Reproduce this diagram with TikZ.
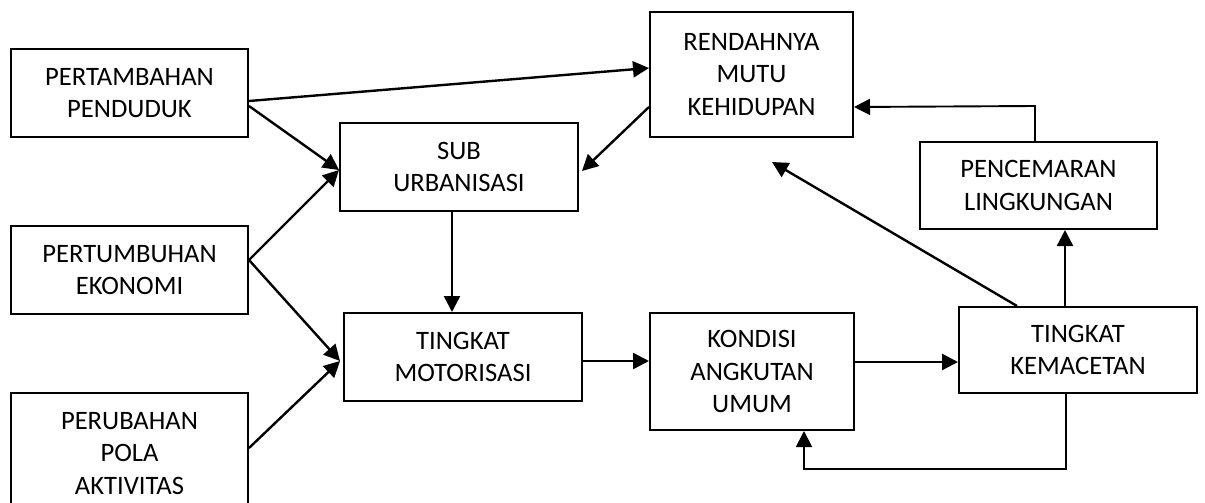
\documentclass[tikz,border=0pt]{standalone}
\usepackage{fontspec}
\setmainfont{Carlito}
\usetikzlibrary{arrows.meta,calc}
\begin{document}
\begin{tikzpicture}[x=1pt,y=-1pt,
  box/.style={draw, line width=2pt, inner sep=0pt, align=center, font=\fontsize{26.6}{32.5}\selectfont},
  arr/.style={line width=2.4pt, -{Triangle[length=16pt,width=16pt]}},
  thinarr/.style={line width=1.9pt, -{Triangle[length=16pt,width=16pt]}}]
\useasboundingbox (0,0) rectangle (1205,503);
\clip (0,0) rectangle (1205,503);
\fill[white] (0,0) rectangle (1205,503);
\node[box, minimum width=237pt, minimum height=88pt] (pp) at (129.5,93) {PERTAMBAHAN\\PENDUDUK};
\node[box, minimum width=237pt, minimum height=88pt] (pe) at (129.5,270) {PERTUMBUHAN\\EKONOMI};
\node[box, minimum width=237pt, minimum height=121pt] (ppa) at (129.5,453.5) {PERUBAHAN\\POLA\\AKTIVITAS};
\node[box, minimum width=238pt, minimum height=88pt] (sub) at (459,167) {SUB\\URBANISASI};
\node[box, minimum width=238pt, minimum height=88pt] (mot) at (463,357) {TINGKAT\\MOTORISASI};
\node[box, minimum width=203pt, minimum height=125pt] (ren) at (751.5,74.5) {RENDAHNYA\\MUTU\\KEHIDUPAN};
\node[box, minimum width=237pt, minimum height=87pt] (pen) at (1038.5,185.5) {PENCEMARAN\\LINGKUNGAN};
\node[box, minimum width=204pt, minimum height=117pt] (kon) at (752,371.5) {KONDISI\\ANGKUTAN\\UMUM};
\node[box, minimum width=238pt, minimum height=86pt] (kem) at (1078,350) {TINGKAT\\KEMACETAN};
\coordinate (kx) at (772,162);
% left side
\draw[arr] ($(pp.east)+(0,8)$) -- ($(ren.west)+(0,-6.5)$);
\draw[arr] ($(pp.east)+(0,13)$) -- ($(sub.west)+(0,3)$);
\draw[arr] ($(pe.east)+(0,-10)$) -- ($(sub.west)+(0,3)$);
\draw[arr] ($(pe.east)+(0,-10)$) -- ($(mot.west)+(-3,4)$);
\draw[arr] ($(ppa.east)+(0,-5.5)$) -- ($(mot.west)+(-3,4)$);
\draw[arr] ($(ren.west)+(0,32.5)$) -- ($(sub.east)+(3,4)$);
\draw[arr] ($(sub.south)+(-7,0)$) -- ($(mot.north)+(-11,0)$);
\draw[arr] ($(mot.east)+(0,4)$) -- ($(kon.west)+(0,-10.5)$);
\draw[arr] ($(kon.east)+(0,-9.5)$) -- ($(kem.west)+(0,12)$);
% right side
\draw[arr] ($(kem.north)+(-13,0)$) -- ($(pen.south)+(26.5,0)$);
\draw[arr] ($(kem.north)+(-61,0)$) -- (kx);
\draw[thinarr] ($(pen.north)+(-3.5,0)$) -- ++(0,-35) -- ($(ren.east)+(0,32.5)$);
\draw[thinarr] ($(kem.south)+(-12,0)$) -- ++(0,75) -| ($(kon.south)+(52,0)$);
\end{tikzpicture}
\end{document}
